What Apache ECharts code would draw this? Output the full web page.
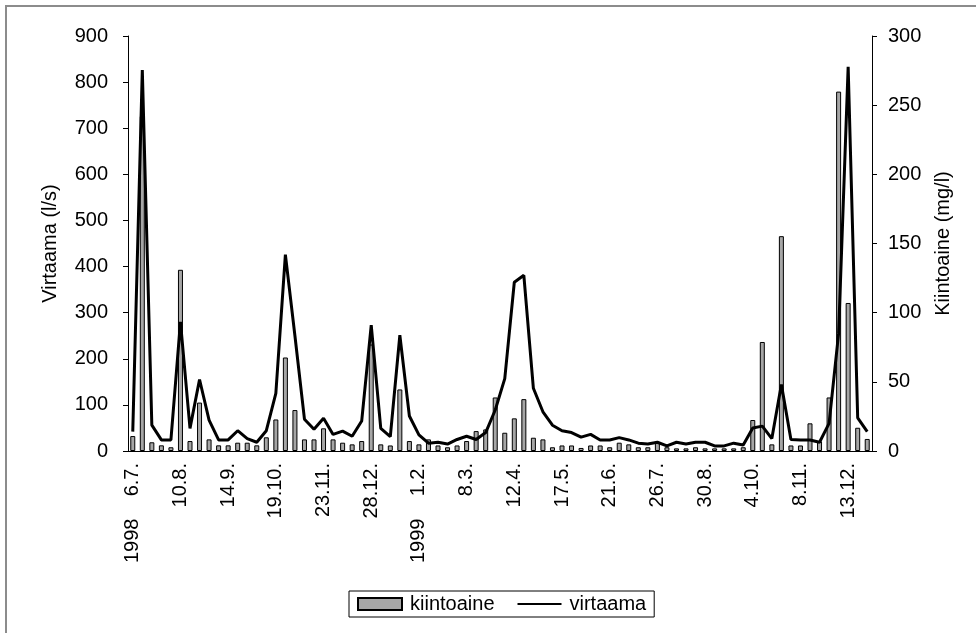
<!DOCTYPE html>
<html>
<head>
<meta charset="utf-8">
<script src="https://cdn.jsdelivr.net/npm/echarts@6/dist/echarts.min.js"></script>
<style>
  html, body { margin: 0; padding: 0; background: #fff; overflow: hidden; }
  .frame {
    position: absolute; left: 5px; top: 5px;
    width: 1100px; height: 800px;
    border: 2px solid #8c8c8c;
  }
  #chart { position: absolute; left: 0; top: 0; width: 976px; height: 633px; }
</style>
</head>
<body>
<div class="frame"></div>
<div id="chart"></div>
<script>
// weekly samples, 6.7.1998 – 27.12.1999 (78 weeks), a label every 5th week
const tickLabels = [
  '1998    6.7.', '10.8.', '14.9.', '19.10.', '23.11.', '28.12.',
  '1999    1.2.', '8.3.', '12.4.', '17.5.', '21.6.', '26.7.',
  '30.8.', '4.10.', '8.11.', '13.12.'
]

// virtaama, l/s (left axis)
const virtaama = [
  42, 826, 56, 24, 24, 280, 49, 155, 67, 24,
  24, 44, 27, 19, 44, 125, 426, 250, 69, 47,
  71, 36, 43, 32, 65, 273, 49, 31, 251, 76,
  35, 17, 19, 15, 25, 32, 25, 40, 89, 157,
  366, 381, 136, 85, 56, 44, 40, 30, 36, 24,
  24, 29, 24, 17, 15, 19, 11, 19, 15, 19,
  19, 11, 11, 17, 13, 50, 54, 27, 144, 25,
  24, 24, 19, 60, 255, 833, 72, 42
]

// kiintoaine, mg/l (right axis)
const kiintoaine = [
  10.8, 242, 6.3, 4.1, 2.7, 131, 7.2, 35, 8.4, 4.1,
  4.1, 6, 6, 4.1, 9.9, 22.8, 67.6, 29.6, 8.4, 8.4,
  16.4, 8.4, 6, 4.8, 7.2, 77, 4.8, 4, 44.5, 7.2,
  4.8, 8.4, 4, 2.7, 4, 7.2, 14.4, 15.6, 38.7, 13.2,
  23.6, 37.5, 9.6, 8.4, 2.7, 4, 4, 2.2, 4, 4,
  2.7, 6, 4.8, 2.7, 2.7, 6, 2.7, 1.9, 1.9, 2.7,
  1.9, 1.9, 1.9, 1.9, 2.7, 22.4, 78.8, 4.8, 155.3, 4,
  4, 20, 7, 38.7, 259.8, 107, 16.8, 8.7
]

const categories = virtaama.map((v, i) => 'w' + i)

const font = 'Liberation Sans, Arial, sans-serif'
const chart = echarts.init(document.getElementById('chart'), null, { renderer: 'canvas' })

chart.setOption({
  animation: false,
  backgroundColor: 'transparent',
  textStyle: { fontFamily: font },
  grid: { left: 128, right: 104, top: 36, bottom: 182 },
  legend: {
    left: 349,
    top: 591,
    padding: [3, 8, 3, 8],
    borderColor: '#000',
    borderWidth: 1,
    itemGap: 22,
    itemWidth: 44,
    itemHeight: 12,
    textStyle: { fontSize: 20, color: '#000', fontFamily: font, padding: [0, 0, 0, 3] },
    data: [
      { name: 'kiintoaine', icon: 'rect' },
      {
        name: 'virtaama',
        itemStyle: { color: 'rgba(0,0,0,0)', borderColor: 'rgba(0,0,0,0)', borderWidth: 0 }
      }
    ]
  },
  xAxis: {
    type: 'category',
    data: categories,
    boundaryGap: true,
    axisLine: { lineStyle: { color: '#000', width: 1 } },
    axisTick: { interval: 4, length: 6, lineStyle: { color: '#000' } },
    axisLabel: {
      interval: 4,
      rotate: 90,
      margin: 12,
      fontSize: 20,
      color: '#000',
      fontFamily: font,
      formatter: (v, i) => tickLabels[i / 5] || ''
    }
  },
  yAxis: [
    {
      type: 'value',
      position: 'left',
      min: 0,
      max: 900,
      interval: 100,
      name: 'Virtaama (l/s)',
      nameLocation: 'middle',
      nameRotate: 90,
      nameGap: 68,
      nameTextStyle: { fontSize: 20, color: '#000', fontFamily: font },
      axisLine: { show: true, lineStyle: { color: '#000' } },
      axisTick: { show: true, length: 5, lineStyle: { color: '#000' } },
      axisLabel: { margin: 20, fontSize: 20, color: '#000', fontFamily: font },
      splitLine: { show: false }
    },
    {
      type: 'value',
      position: 'right',
      min: 0,
      max: 300,
      interval: 50,
      name: 'Kiintoaine (mg/l)',
      nameLocation: 'middle',
      nameRotate: 90,
      nameGap: 61,
      nameTextStyle: { fontSize: 20, color: '#000', fontFamily: font },
      axisLine: { show: true, lineStyle: { color: '#000' } },
      axisTick: { show: true, length: 5, lineStyle: { color: '#000' } },
      axisLabel: { margin: 16, fontSize: 20, color: '#000', fontFamily: font },
      splitLine: { show: false }
    }
  ],
  series: [
    {
      name: 'kiintoaine',
      type: 'bar',
      yAxisIndex: 1,
      barWidth: 5,
      itemStyle: { color: '#a6a6a6', borderColor: '#000', borderWidth: 1 },
      data: kiintoaine,
      z: 2
    },
    {
      name: 'virtaama',
      type: 'line',
      yAxisIndex: 0,
      symbol: 'none',
      lineStyle: { color: '#000', width: 3 },
      itemStyle: { color: '#000' },
      data: virtaama,
      z: 3
    }
  ]
})
</script>
</body>
</html>
